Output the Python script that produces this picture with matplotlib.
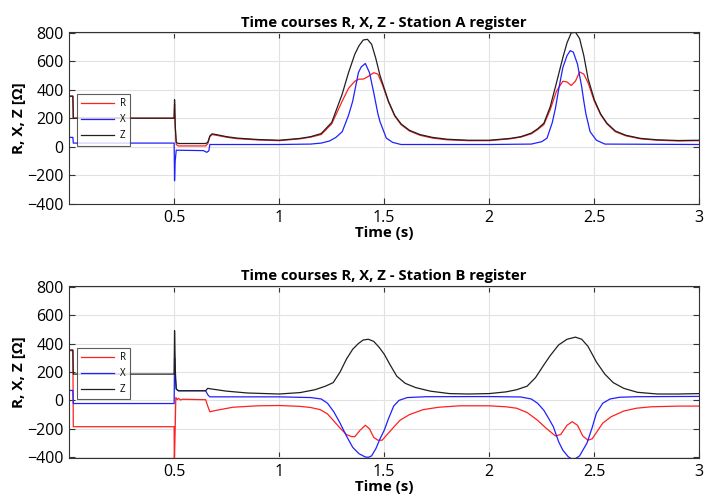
import matplotlib
matplotlib.use("Agg")
import matplotlib.pyplot as plt

plt.rcParams['font.family'] = ['Open Sans', 'DejaVu Sans']

# ---- Station A ----
tA_z = [0, 0.018, 0.02, 0.5, 0.502, 0.505, 0.51, 0.52, 0.65, 0.66, 0.67, 0.68, 0.7, 0.75, 0.8, 0.9,
        1.0, 1.1, 1.15, 1.2, 1.25, 1.3, 1.33, 1.36, 1.38, 1.40, 1.42, 1.44, 1.46, 1.48, 1.5, 1.52,
        1.55, 1.58, 1.62, 1.67, 1.73, 1.8, 1.9, 2.0, 2.1, 2.15, 2.2, 2.23, 2.26, 2.29, 2.32, 2.35,
        2.37, 2.39, 2.41, 2.43, 2.45, 2.47, 2.5, 2.53, 2.56, 2.6, 2.65, 2.72, 2.8, 2.9, 3.0]
zA = [355, 355, 200, 200, 330, 150, 30, 22, 22, 30, 75, 90, 85, 70, 60, 50,
      45, 58, 70, 92, 170, 370, 520, 650, 710, 750, 755, 720, 620, 500, 410, 320,
      220, 160, 115, 85, 65, 52, 45, 45, 58, 70, 95, 125, 165, 280, 450, 625,
      730, 800, 805, 760, 640, 480, 330, 230, 165, 110, 80, 58, 48, 43, 45]

tA_r = [0, 0.018, 0.02, 0.5, 0.502, 0.506, 0.51, 0.52, 0.65, 0.66, 0.67, 0.68, 0.7, 0.75, 0.8, 0.9,
        1.0, 1.1, 1.15, 1.2, 1.25, 1.3, 1.33, 1.36, 1.38, 1.40, 1.42, 1.45, 1.47, 1.49, 1.5, 1.52,
        1.55, 1.58, 1.62, 1.67, 1.73, 1.8, 1.9, 2.0, 2.1, 2.15, 2.2, 2.23, 2.26, 2.29, 2.32, 2.35,
        2.37, 2.39, 2.41, 2.43, 2.45, 2.47, 2.5, 2.53, 2.56, 2.6, 2.65, 2.72, 2.8, 2.9, 3.0]
rA = [355, 355, 200, 200, 300, 120, 15, 5, 5, 20, 70, 85, 80, 66, 56, 47,
      42, 55, 67, 85, 160, 320, 410, 460, 475, 475, 490, 520, 510, 440, 400, 315,
      215, 155, 110, 80, 60, 48, 42, 42, 55, 67, 90, 120, 155, 260, 390, 460,
      455, 430, 460, 525, 510, 450, 320, 225, 160, 105, 76, 55, 45, 40, 42]

tA_x = [0, 0.018, 0.02, 0.5, 0.502, 0.505, 0.51, 0.64, 0.655, 0.665, 0.67, 0.8, 1.0, 1.15, 1.2,
        1.24, 1.27, 1.3, 1.33, 1.35, 1.377, 1.39, 1.41, 1.43, 1.45, 1.47, 1.48, 1.51, 1.54, 1.58,
        2.0, 2.2, 2.25, 2.275, 2.3, 2.315, 2.33, 2.35, 2.37, 2.385, 2.40, 2.42, 2.44, 2.45, 2.46,
        2.48, 2.51, 2.55, 3.0]
xA = [65, 65, 25, 25, -240, -100, -25, -28, -40, -30, 15, 15, 15, 18, 25,
      40, 65, 105, 220, 320, 520, 560, 585, 520, 380, 230, 175, 60, 30, 15,
      15, 18, 35, 60, 170, 270, 400, 555, 640, 675, 665, 580, 420, 320, 230,
      105, 45, 18, 15]

# ---- Station B ----
tB_z = [0, 0.018, 0.02, 0.5, 0.502, 0.506, 0.51, 0.52, 0.65, 0.66, 0.67, 0.75, 0.85, 1.0, 1.1,
        1.17, 1.22, 1.257, 1.29, 1.32, 1.35, 1.377, 1.40, 1.425, 1.45, 1.475, 1.5, 1.53, 1.56,
        1.6, 1.65, 1.72, 1.81, 1.9, 2.0, 2.08, 2.13, 2.18, 2.22, 2.26, 2.29, 2.33, 2.37, 2.41,
        2.44, 2.47, 2.51, 2.55, 2.59, 2.64, 2.705, 2.8, 2.9, 3.0]
zB = [355, 355, 185, 185, 490, 200, 80, 68, 68, 85, 82, 65, 52, 45, 55,
      75, 100, 125, 200, 290, 360, 400, 425, 430, 415, 375, 325, 245, 170,
      120, 90, 65, 48, 45, 48, 60, 75, 100, 160, 250, 315, 390, 430, 445,
      430, 380, 270, 185, 125, 85, 57, 45, 45, 48]

tB_x = [0, 0.018, 0.02, 0.5, 0.502, 0.506, 0.51, 0.52, 0.65, 0.66, 0.67, 1.0, 1.15, 1.2, 1.23,
        1.26, 1.29, 1.32, 1.35, 1.38, 1.41, 1.425, 1.44, 1.46, 1.48, 1.5, 1.52, 1.545, 1.57,
        1.61, 1.7, 2.0, 2.15, 2.2, 2.23, 2.26, 2.28, 2.305, 2.33, 2.35, 2.375, 2.40, 2.43,
        2.465, 2.49, 2.51, 2.54, 2.575, 2.62, 2.7, 3.0]
xB = [70, 70, -22, -22, 300, 150, 80, 68, 68, 40, 25, 25, 20, 10, -20,
      -80, -160, -250, -330, -375, -398, -400, -390, -340, -270, -210, -130, -40, 0,
      20, 26, 27, 24, 10, -20, -70, -120, -185, -290, -350, -395, -420, -390,
      -300, -190, -90, -20, 10, 22, 26, 28]

tB_r = [0, 0.018, 0.02, 0.5, 0.501, 0.505, 0.508, 0.515, 0.52, 0.53, 0.54, 0.65, 0.66, 0.67,
        0.7, 0.78, 0.9, 1.0, 1.1, 1.15, 1.195, 1.23, 1.257, 1.29, 1.32, 1.345, 1.36, 1.385,
        1.41, 1.43, 1.45, 1.47, 1.49, 1.52, 1.55, 1.575, 1.62, 1.685, 1.76, 1.86, 2.0, 2.08,
        2.13, 2.18, 2.23, 2.27, 2.315, 2.34, 2.37, 2.395, 2.42, 2.445, 2.47, 2.49, 2.515,
        2.54, 2.58, 2.64, 2.7, 2.77, 2.9, 3.0]
rB = [350, 350, -185, -185, -450, -200, 20, 5, 15, 3, 8, 5, -40, -80,
      -70, -48, -38, -36, -42, -50, -65, -95, -140, -195, -240, -255, -255, -210,
      -175, -200, -260, -280, -280, -230, -180, -140, -100, -65, -48, -38, -38, -45,
      -55, -85, -140, -195, -250, -240, -175, -150, -175, -250, -280, -270, -215,
      -160, -115, -75, -55, -45, -40, -40]

panels = [
    ("Time courses R, X, Z - Station A register", (tA_r, rA), (tA_x, xA), (tA_z, zA)),
    ("Time courses R, X, Z - Station B register", (tB_r, rB), (tB_x, xB), (tB_z, zB)),
]

x_ticks = [0.5, 1, 1.5, 2, 2.5, 3]
x_tick_labels = ['0.5', '1', '1.5', '2', '2.5', '3']
y_ticks = [-400, -200, 0, 200, 400, 600, 800]

fig = plt.figure(figsize=(7.05, 5.03), dpi=100)
rects = [[0.098, 0.594, 0.894, 0.342], [0.098, 0.0895, 0.894, 0.342]]

for rect, (title, r, x, z) in zip(rects, panels):
    ax = fig.add_axes(rect)
    ax.plot(r[0], r[1], color='#ff2020', lw=0.9, label='R')
    ax.plot(x[0], x[1], color='#2020ff', lw=0.9, label='X')
    ax.plot(z[0], z[1], color='#202020', lw=0.9, label='Z')
    ax.set_xlim(0, 3)
    ax.set_ylim(-405, 805)
    ax.set_xticks(x_ticks)
    ax.set_xticklabels(x_tick_labels)
    ax.set_yticks(y_ticks)
    ax.grid(True, color='#e2e2e2', lw=0.8)
    ax.set_axisbelow(True)
    ax.tick_params(direction='in', top=True, right=True, length=4, width=0.8,
                   color='#333333', labelsize=11.5, pad=4)
    for s in ax.spines.values():
        s.set_color('#333333')
        s.set_linewidth(0.8)
    ax.set_title(title, fontsize=10.6, fontweight='bold', pad=4)
    ax.set_xlabel('Time (s)', fontsize=10.8, fontweight='bold', labelpad=0)
    ax.set_ylabel('R, X, Z [Ω]', fontsize=11, fontweight='bold', labelpad=1)
    leg = ax.legend(loc='upper left', bbox_to_anchor=(0.012, 0.64), fontsize=7,
                    fancybox=False, edgecolor='#333333', handlelength=3.4,
                    borderpad=0.45, labelspacing=0.5, handletextpad=0.6, borderaxespad=0)
    leg.get_frame().set_linewidth(0.8)

fig.savefig('out.png', dpi=100)
